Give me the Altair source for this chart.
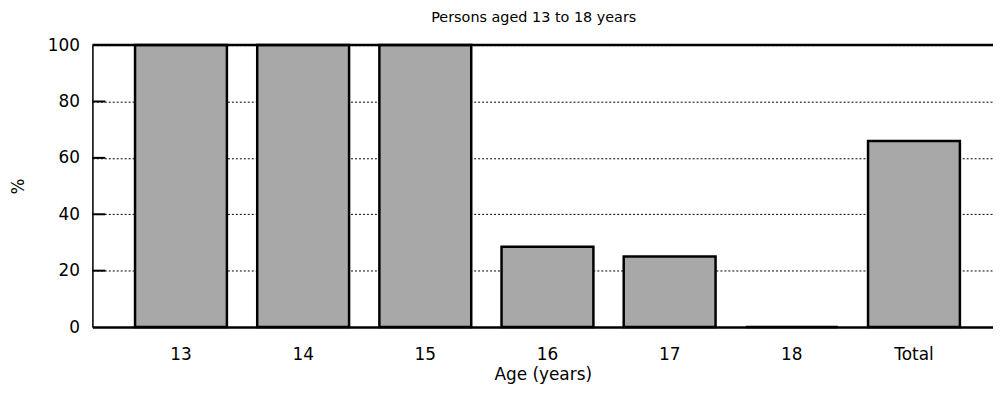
import altair as alt
import pandas as pd

categories = ["13", "14", "15", "16", "17", "18", "Total"]
values = [100, 100, 100, 28.5, 25, 0, 66]
inner_ticks = [20, 40, 60, 80]
y_ticks = [0, 20, 40, 60, 80, 100]
top_line = [100]

FONT = "DejaVu Sans"

bars_df = pd.DataFrame({"age": categories, "pct": values})
ticks_df = pd.DataFrame({"v": inner_ticks})
top_df = pd.DataFrame({"v": top_line})

yscale = alt.Scale(domain=[0, 100], nice=False)

bars = alt.Chart(bars_df).mark_bar(
    fill="#a8a8a8", stroke="black", strokeWidth=2.5
).encode(
    x=alt.X(
        "age:N",
        sort=categories,
        title="Age (years)",
        scale=alt.Scale(paddingInner=0.248, paddingOuter=0.31, align=0.563),
        axis=alt.Axis(
            labelAngle=0,
            labelFont=FONT,
            labelFontSize=17,
            labelColor="black",
            labelPadding=20,
            tickSize=0,
            domainColor="black",
            domainWidth=2.5,
            titleFont=FONT,
            titleFontSize=17,
            titleFontWeight="normal",
            titleColor="black",
            titlePadding=4,
        ),
    ),
    y=alt.Y(
        "pct:Q",
        scale=yscale,
        title="%",
        axis=alt.Axis(
            values=y_ticks,
            labelFont=FONT,
            labelFontSize=17,
            labelColor="black",
            labelPadding=13,
            tickSize=0,
            domainColor="black",
            domainWidth=1.5,
            grid=True,
            gridColor="black",
            gridDash=[2, 2],
            gridWidth=1,
            titleFont=FONT,
            titleFontSize=17,
            titleFontWeight="normal",
            titleColor="black",
            titlePadding=20,
        ),
    ),
)

ticks = alt.Chart(ticks_df).mark_rule(color="black", strokeWidth=2).encode(
    x=alt.value(0), x2=alt.value(13), y=alt.Y("v:Q", scale=yscale)
)

top = alt.Chart(top_df).mark_rule(color="black", strokeWidth=2.5).encode(
    x=alt.value(0), x2=alt.value(907), y=alt.Y("v:Q", scale=yscale)
)

chart = alt.layer(bars, ticks, top).properties(
    width=907,
    height=284,
    autosize=alt.AutoSizeParams(type="none"),
    padding={"left": 85, "top": 36, "right": 0, "bottom": 58},
    title=alt.Title(
        "Persons aged 13 to 18 years",
        font=FONT,
        fontSize=14.5,
        fontWeight="normal",
        color="black",
        anchor="middle",
        dx=-9,
        offset=11,
    ),
).configure_view(stroke=None).configure(background="white")

chart.save("out.html", embed_options={"renderer": "svg", "actions": False})
